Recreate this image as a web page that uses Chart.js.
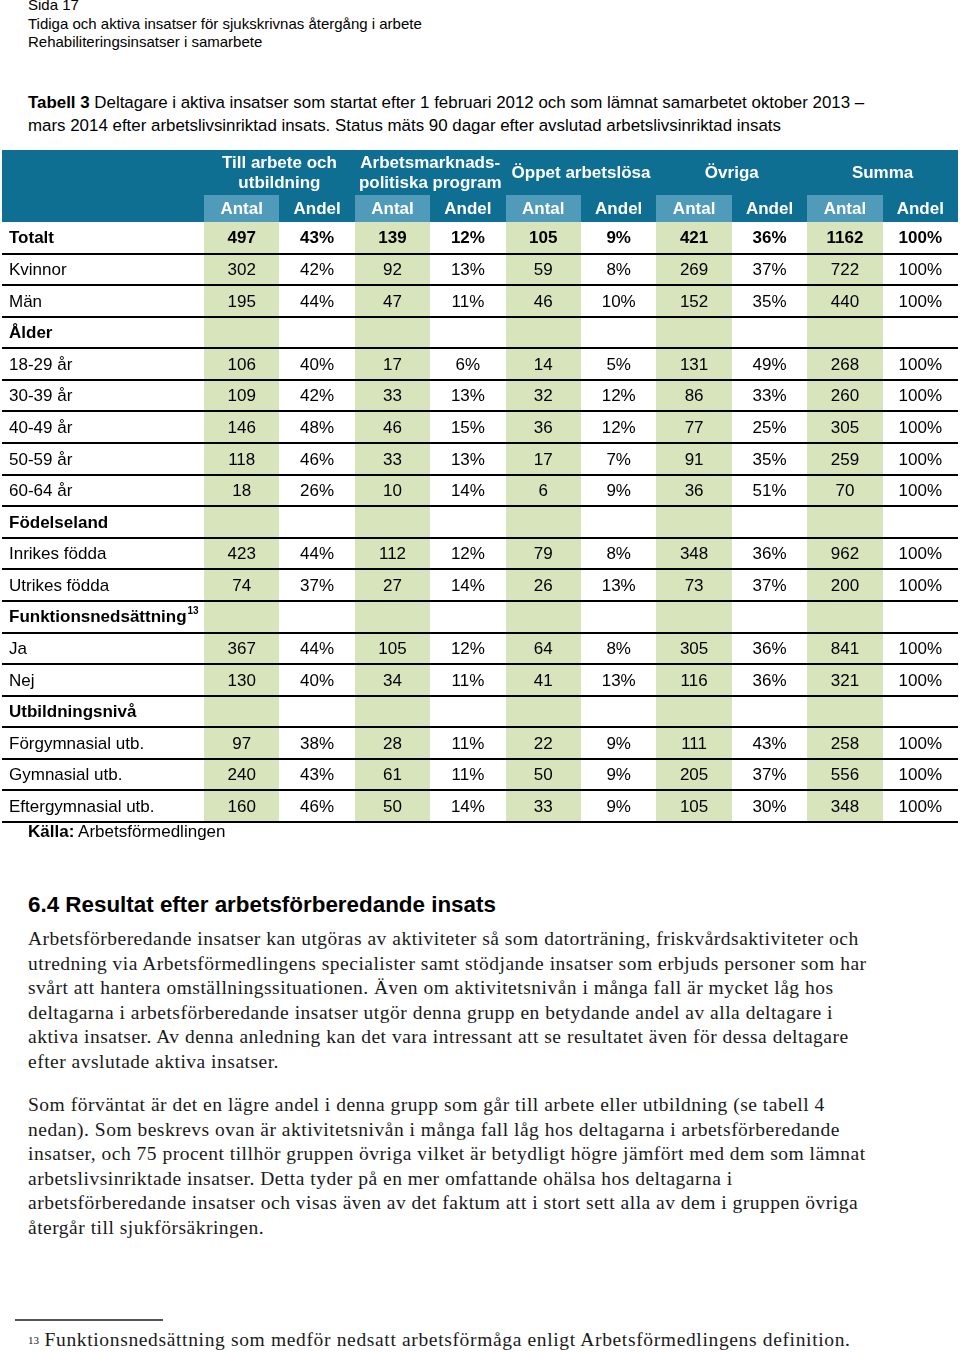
<!DOCTYPE html>
<html>
  <head>
    <meta charset="utf-8">
    <title>Tabell 3</title>
    <style>
      body { margin: 0; background: #fff; width: 960px; height: 1352px; position: relative; overflow: hidden; }
      .t { position: absolute; left: 28px; white-space: nowrap; color: #000; }
      .sans { font-family: "Liberation Sans", Arial, sans-serif; }
      .serif { font-family: "Liberation Serif", "Times New Roman", serif; font-size: 19.5px; letter-spacing: 0.5px; color: #1a1a1a; }
      .table-wrap { position: absolute; left: 0; top: 148px; width: 960px; height: 678px; }
      .rule { position: absolute; left: 15px; top: 1319px; width: 148px; height: 2px; background: #555; }
    </style>
  </head>
  <body>
    <div class="t sans" style="top:-4px;font-size:15px">Sida 17</div>
    <div class="t sans" style="top:15px;font-size:15px">Tidiga och aktiva insatser för sjukskrivnas återgång i arbete</div>
    <div class="t sans" style="top:33px;font-size:15px">Rehabiliteringsinsatser i samarbete</div>

    <div class="t sans" style="top:93px;font-size:16.9px"><b>Tabell 3</b> Deltagare i aktiva insatser som startat efter 1 februari 2012 och som lämnat samarbetet oktober 2013 –</div>
    <div class="t sans" style="top:116px;font-size:16.9px">mars 2014 efter arbetslivsinriktad insats. Status mäts 90 dagar efter avslutad arbetslivsinriktad insats</div>

    <div class="table-wrap">
      <canvas id="mycanvas" width="960" height="678"></canvas>
    </div>

    <div class="t sans" style="top:822px;font-size:17px"><b>Källa:</b> Arbetsförmedlingen</div>

    <div class="t sans" style="top:892px;font-size:22.4px;font-weight:bold">6.4 Resultat efter arbetsförberedande insats</div>

    <div class="t serif" style="top:928px">Arbetsförberedande insatser kan utgöras av aktiviteter så som datorträning, friskvårdsaktiviteter och</div>
    <div class="t serif" style="top:953px">utredning via Arbetsförmedlingens specialister samt stödjande insatser som erbjuds personer som har</div>
    <div class="t serif" style="top:977px">svårt att hantera omställningssituationen. Även om aktivitetsnivån i många fall är mycket låg hos</div>
    <div class="t serif" style="top:1002px">deltagarna i arbetsförberedande insatser utgör denna grupp en betydande andel av alla deltagare i</div>
    <div class="t serif" style="top:1026px">aktiva insatser. Av denna anledning kan det vara intressant att se resultatet även för dessa deltagare</div>
    <div class="t serif" style="top:1051px">efter avslutade aktiva insatser.</div>

    <div class="t serif" style="top:1094px">Som förväntat är det en lägre andel i denna grupp som går till arbete eller utbildning (se tabell 4</div>
    <div class="t serif" style="top:1119px">nedan). Som beskrevs ovan är aktivitetsnivån i många fall låg hos deltagarna i arbetsförberedande</div>
    <div class="t serif" style="top:1143px">insatser, och 75 procent tillhör gruppen övriga vilket är betydligt högre jämfört med dem som lämnat</div>
    <div class="t serif" style="top:1168px">arbetslivsinriktade insatser. Detta tyder på en mer omfattande ohälsa hos deltagarna i</div>
    <div class="t serif" style="top:1192px">arbetsförberedande insatser och visas även av det faktum att i stort sett alla av dem i gruppen övriga</div>
    <div class="t serif" style="top:1217px">återgår till sjukförsäkringen.</div>

    <div class="rule"></div>
    <div class="t serif" style="top:1329px;letter-spacing:0.65px"><span style="font-size:11px;letter-spacing:0;vertical-align:2px">13</span> Funktionsnedsättning som medför nedsatt arbetsförmåga enligt Arbetsförmedlingens definition.</div>

    <script src="https://cdn.jsdelivr.net/npm/chart.js@4.4.1/dist/chart.umd.min.js"></script>
    <script>
      // table data
      var groups = ['Till arbete och|utbildning', 'Arbetsmarknads-|politiska program', 'Öppet arbetslösa', 'Övriga', 'Summa'];
      var subCols = ['Antal', 'Andel'];
      var rowLabels = ['Totalt', 'Kvinnor', 'Män', 'Ålder', '18-29 år', '30-39 år', '40-49 år', '50-59 år', '60-64 år',
        'Födelseland', 'Inrikes födda', 'Utrikes födda', 'Funktionsnedsättning', 'Ja', 'Nej', 'Utbildningsnivå',
        'Förgymnasial utb.', 'Gymnasial utb.', 'Eftergymnasial utb.'];
      var boldRows = [0, 3, 9, 12, 15];

      var antalArbete  = [497, 302, 195, null, 106, 109, 146, 118, 18, null, 423, 74, null, 367, 130, null, 97, 240, 160];
      var andelArbete  = [43, 42, 44, null, 40, 42, 48, 46, 26, null, 44, 37, null, 44, 40, null, 38, 43, 46];
      var antalProgram = [139, 92, 47, null, 17, 33, 46, 33, 10, null, 112, 27, null, 105, 34, null, 28, 61, 50];
      var andelProgram = [12, 13, 11, null, 6, 13, 15, 13, 14, null, 12, 14, null, 12, 11, null, 11, 11, 14];
      var antalOppet   = [105, 59, 46, null, 14, 32, 36, 17, 6, null, 79, 26, null, 64, 41, null, 22, 50, 33];
      var andelOppet   = [9, 8, 10, null, 5, 12, 12, 7, 9, null, 8, 13, null, 8, 13, null, 9, 9, 9];
      var antalOvriga  = [421, 269, 152, null, 131, 86, 77, 91, 36, null, 348, 73, null, 305, 116, null, 111, 205, 105];
      var andelOvriga  = [36, 37, 35, null, 49, 33, 25, 35, 51, null, 36, 37, null, 36, 36, null, 43, 37, 30];
      var antalSumma   = [1162, 722, 440, null, 268, 260, 305, 259, 70, null, 962, 200, null, 841, 321, null, 258, 556, 348];
      var andelSumma   = [100, 100, 100, null, 100, 100, 100, 100, 100, null, 100, 100, null, 100, 100, null, 100, 100, 100];

      var columns = [antalArbete, andelArbete, antalProgram, andelProgram, antalOppet, andelOppet,
        antalOvriga, andelOvriga, antalSumma, andelSumma];

      // layout (scale units: one column = 1 on x, one row = 1 on y)
      var X_MIN = -2.7056, X_MAX = 10.0265, X_HEAD = -2.679;
      var Y_MIN = -2.343, Y_MAX = 19.127, Y_HEAD = -2.28, Y_SUB = -0.855;

      var TEAL = '#0f6f93';
      var TEAL_LIGHT = '#4f9bb9';
      var GREEN = '#d8e4bc';
      var FONT = '"Liberation Sans", Arial, sans-serif';
      var SIZE = '17px ';

      var datasets = columns.map(function(col, c) {
        return {
          label: (c % 2 == 0 ? 'Antal ' : 'Andel ') + c,
          data: col.map(function(v, r) {
            return { x: c + 0.5, y: r + 0.5, v: v, text: v == null ? '' : (c % 2 == 0 ? String(v) : v + '%') };
          }),
          pointRadius: 0,
          pointHoverRadius: 0,
          showLine: false
        };
      });

      var tablePlugin = {
        id: 'tablePlugin',
        beforeDatasetsDraw: function(chart) {
          var ctx = chart.ctx;
          var xs = chart.scales.x, ys = chart.scales.y;
          var left = xs.getPixelForValue(X_HEAD), right = xs.getPixelForValue(10);
          var top = ys.getPixelForValue(Y_HEAD), subTop = ys.getPixelForValue(Y_SUB);
          var body = ys.getPixelForValue(0), bottom = ys.getPixelForValue(rowLabels.length);
          ctx.save();
          // header band
          ctx.fillStyle = TEAL;
          ctx.fillRect(left, top, right - left, body - top);
          // green antal columns + light header cells
          for (var g = 0; g < groups.length; g++) {
            var x0 = Math.round(xs.getPixelForValue(2 * g)), x1 = Math.round(xs.getPixelForValue(2 * g + 1));
            ctx.fillStyle = TEAL_LIGHT;
            ctx.fillRect(x0, subTop, x1 - x0, body - subTop);
            ctx.fillStyle = GREEN;
            ctx.fillRect(x0, body, x1 - x0, bottom - body);
          }
          // row rules
          ctx.strokeStyle = '#000';
          ctx.lineWidth = 2;
          for (var r = 1; r <= rowLabels.length; r++) {
            var y = Math.round(ys.getPixelForValue(r));
            ctx.beginPath();
            ctx.moveTo(left, y);
            ctx.lineTo(right, y);
            ctx.stroke();
          }
          ctx.restore();
        },
        afterDatasetsDraw: function(chart) {
          var ctx = chart.ctx;
          var xs = chart.scales.x, ys = chart.scales.y;
          ctx.save();
          ctx.textBaseline = 'middle';
          // group headers
          ctx.fillStyle = '#fff';
          ctx.textAlign = 'center';
          ctx.font = 'bold ' + SIZE + FONT;
          var headMid = (ys.getPixelForValue(Y_HEAD) + ys.getPixelForValue(Y_SUB)) / 2;
          groups.forEach(function(g, i) {
            var cx = xs.getPixelForValue(2 * i + 1);
            var lines = g.split('|');
            lines.forEach(function(line, k) {
              ctx.fillText(line, cx, headMid + 1 + (k - (lines.length - 1) / 2) * 20);
            });
          });
          var subMid = (ys.getPixelForValue(Y_SUB) + ys.getPixelForValue(0)) / 2 + 1;
          for (var c = 0; c < columns.length; c++) {
            ctx.fillText(subCols[c % 2], xs.getPixelForValue(c + 0.5), subMid);
          }
          // row labels
          ctx.fillStyle = '#000';
          ctx.textAlign = 'left';
          var lx = xs.getPixelForValue(X_MIN) + 9;
          rowLabels.forEach(function(label, r) {
            var bold = boldRows.indexOf(r) >= 0;
            ctx.font = (bold ? 'bold ' : '') + SIZE + FONT;
            var y = ys.getPixelForValue(r + 0.5) + 1;
            ctx.fillText(label, lx, y);
            if (label == 'Funktionsnedsättning') {
              var w = ctx.measureText(label).width;
              ctx.font = 'bold 10px ' + FONT;
              ctx.fillText('13', lx + w + 1, y - 6);
            }
          });
          // cell values at the scatter points
          ctx.textAlign = 'center';
          chart.data.datasets.forEach(function(ds, i) {
            var meta = chart.getDatasetMeta(i);
            meta.data.forEach(function(el, r) {
              var raw = ds.data[r];
              ctx.font = (r == 0 ? 'bold ' : '') + SIZE + FONT;
              ctx.fillText(raw.text, el.x, el.y + 1);
            });
          });
          ctx.restore();
        }
      };

      var ctx = document.getElementById('mycanvas');
      var TableChart = new Chart(ctx, {
        type: 'scatter',
        data: { datasets: datasets },
        options: {
          responsive: false,
          animation: false,
          layout: { padding: 0 },
          events: [],
          scales: {
            x: { type: 'linear', min: X_MIN, max: X_MAX, display: false },
            y: { type: 'linear', min: Y_MIN, max: Y_MAX, reverse: true, display: false }
          },
          plugins: {
            legend: { display: false },
            tooltip: { enabled: false }
          }
        },
        plugins: [tablePlugin]
      });
    </script>
  </body>
</html>
